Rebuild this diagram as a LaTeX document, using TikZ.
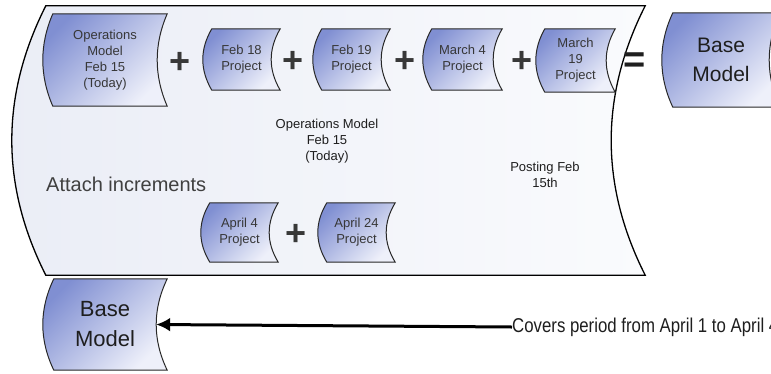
\documentclass[tikz,border=0pt]{standalone}
\usepackage{fontspec}
\setmainfont{Liberation Sans}
\newfontfamily\narrowfont[FakeStretch=0.84]{Liberation Sans}
\usetikzlibrary{calc,backgrounds,arrows.meta}
\definecolor{boxdark}{RGB}{128,143,210}
\definecolor{boxlight}{RGB}{238,240,250}
\definecolor{bigleft}{RGB}{234,237,246}
\definecolor{bigright}{RGB}{250,251,253}
\definecolor{edge}{RGB}{40,40,40}
\definecolor{txt}{RGB}{55,55,55}
\definecolor{dtxt}{RGB}{30,30,30}

% outline of a box whose left side bulges out and right side bulges in
\newcommand\cboutline[3]{%
  \pgfmathsetmacro\cbha{#3/2}\pgfmathsetmacro\cbhc{-5*#3/6}%
  \path[#1] ($(#2.north west)+(\cbha,0)$)
    .. controls ($(#2.north west)!0.333!(#2.south west)+(\cbhc,0)$)
    and ($(#2.north west)!0.667!(#2.south west)+(\cbhc,0)$) ..
    ($(#2.south west)+(\cbha,0)$) -- ($(#2.south east)+(\cbha,0)$)
    .. controls ($(#2.north east)!0.667!(#2.south east)+(\cbhc,0)$)
    and ($(#2.north east)!0.333!(#2.south east)+(\cbhc,0)$) ..
    ($(#2.north east)+(\cbha,0)$) -- cycle;}

\tikzset{
  cbox/.style={inner sep=0pt, align=center, text=txt,
    font=\fontsize{13}{16}\selectfont},
  bigbox/.style={cbox, text=dtxt, font=\fontsize{21}{29}\selectfont},
  boxshape/.style={draw=edge, line width=1pt, top color=boxdark,
    bottom color=boxlight, shading angle=45},
  contshape/.style={draw=black, line width=1.3pt, left color=bigleft,
    right color=bigright},
  plussign/.style={inner sep=0pt, text=black!78,
    font=\bfseries\fontsize{36}{36}\selectfont},
  eqsign/.style={inner sep=0pt, text=black!88,
    font=\bfseries\fontsize{38}{38}\selectfont},
  lbl/.style={inner sep=0pt, align=center, text=dtxt,
    font=\fontsize{13}{16}\selectfont},
  arr/.style={line width=3pt, -{Latex[length=14pt,width=14pt]}}
}

\begin{document}
\begin{tikzpicture}[x=1pt,y=-1pt]
\useasboundingbox (0,0) rectangle (771,373);

% container
\node[minimum width=599pt, minimum height=269pt, inner sep=0pt] (cont) at (328.5,140.5) {};

% top row
\node[cbox, minimum width=114pt, minimum height=92pt] (b1) at (105,60) {Operations\\Model\\Feb 15\\(Today)};
\node[plussign] (p1) at (180,63) {+};
\node[cbox, minimum width=68pt, minimum height=61pt] (b2) at (241.5,59.5) {Feb 18\\Project};
\node[plussign] (p2) at (293,62) {+};
\node[cbox, minimum width=68pt, minimum height=61pt] (b3) at (351.5,59.5) {Feb 19\\Project};
\node[plussign] (p3) at (405,62) {+};
\node[cbox, minimum width=70pt, minimum height=61pt] (b4) at (462.5,59.5) {March 4\\Project};
\node[plussign] (p4) at (522,62) {+};
\node[cbox, minimum width=70pt, minimum height=63pt] (b5) at (575.5,60.5) {March\\19\\Project};
\node[eqsign] (eq) at (635,63) {=};
\node[bigbox, minimum width=107pt, minimum height=94pt] (base1) at (721,60) {Base\\Model};

% labels
\node[lbl] (ops) at (327,141) {Operations Model\\Feb 15\\(Today)};
\node[lbl] (post) at (545,175) {Posting Feb\\15th};
\node[inner sep=0pt, anchor=west, text=black!75, font=\fontsize{20}{24}\selectfont] (att) at (46,184) {Attach increments};

% increments
\node[cbox, minimum width=68pt, minimum height=59pt] (b6) at (239.5,232.5) {April 4\\Project};
\node[plussign] (p5) at (296,235) {+};
\node[cbox, minimum width=68pt, minimum height=59pt] (b7) at (356.5,232.5) {April 24\\Project};

% bottom
\node[bigbox, font=\fontsize{22}{30}\selectfont, minimum width=113pt, minimum height=91pt] (base2) at (105,324.5) {Base\\Model};
\node[inner sep=0pt, anchor=west, text=dtxt, font=\narrowfont\fontsize{20}{24}\selectfont] (cov) at (512,327) {Covers period from April 1 to April 4};
\draw[arr] (cov.west) -- ([xshift=-5.5pt]base2.east);

\begin{pgfonlayer}{background}
  \cboutline{contshape}{cont}{34}
  \cboutline{boxshape}{b1}{10}
  \cboutline{boxshape}{b2}{9}
  \cboutline{boxshape}{b3}{9}
  \cboutline{boxshape}{b4}{9}
  \cboutline{boxshape}{b5}{9}
  \cboutline{boxshape}{base1}{11}
  \cboutline{boxshape}{b6}{9}
  \cboutline{boxshape}{b7}{9}
  \cboutline{boxshape}{base2}{11}
\end{pgfonlayer}
\end{tikzpicture}
\end{document}
